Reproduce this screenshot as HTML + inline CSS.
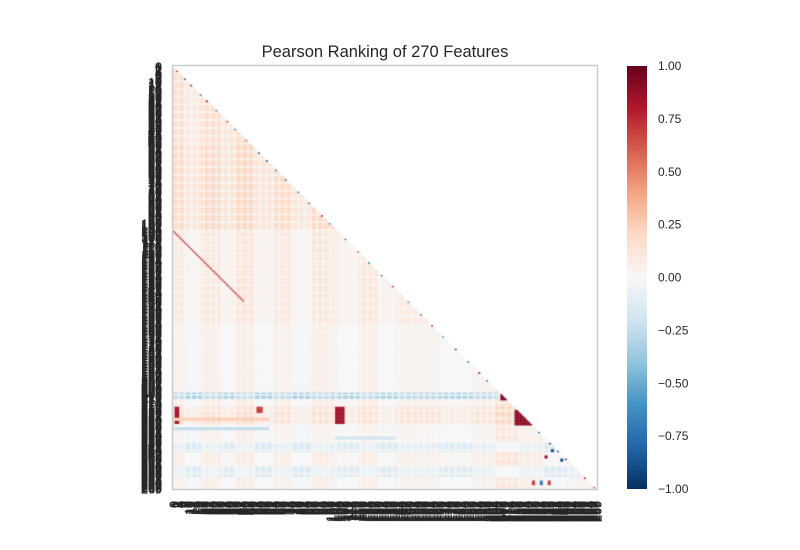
<!DOCTYPE html>
<html><head><meta charset="utf-8"><style>
html,body{margin:0;padding:0;background:#fff;}
#wrap{position:relative;width:800px;height:550px;overflow:hidden;font-family:"Liberation Sans",sans-serif;}
#heat{position:absolute;left:173px;top:66px;}
svg{position:absolute;left:0;top:0;}
</style></head><body>
<div id="wrap">
<canvas id="heat" width="425" height="424"></canvas>
<svg id="svg" width="800" height="550">
<defs><linearGradient id="cb" x1="0" y1="1" x2="0" y2="0">
<stop offset="0" stop-color="#053061"/><stop offset="0.1" stop-color="#2166ac"/><stop offset="0.2" stop-color="#4393c3"/><stop offset="0.3" stop-color="#92c5de"/><stop offset="0.4" stop-color="#d1e5f0"/><stop offset="0.5" stop-color="#f7f7f7"/><stop offset="0.6" stop-color="#fddbc7"/><stop offset="0.7" stop-color="#f4a582"/><stop offset="0.8" stop-color="#d6604d"/><stop offset="0.9" stop-color="#b2182b"/><stop offset="1" stop-color="#67001f"/></linearGradient></defs>
<text x="385" y="57" text-anchor="middle" font-size="16.5" fill="#262626">Pearson Ranking of 270 Features</text>
<rect x="172.5" y="65.5" width="425" height="424" fill="none" stroke="#cccccc" stroke-width="1.5"/>
<rect x="627" y="66" width="20" height="423" fill="url(#cb)"/>
<g id="ylab" font-size="12.5" fill="#262626" stroke="#262626" stroke-width="0.3"></g>
<g id="xlab" font-size="12.5" fill="#262626" stroke="#262626" stroke-width="0.3"></g>
<g id="cbl" font-size="12" fill="#262626"></g>
</svg>
</div>
<script>
const nFeatures = 270;
const rowBandStart = [0, 50, 105, 165, 208, 212, 217, 228, 240, 246, 255, 262];
const rowBandValue = [0.15, 0.17, 0.08, 0.03, -0.3, 0.05, 0.12, 0.02, -0.12, 0.05, -0.1, 0.03];
const colBandStart = [0, 8, 18, 30, 40, 52, 64, 75, 88, 100, 105, 118, 130, 142, 155, 170, 190, 205, 220, 235, 250];
const colBandValue = [0.03, -0.05, 0.04, -0.03, 0.05, -0.04, 0.03, -0.05, 0.04, 0.01, -0.03, 0.04, -0.04, 0.02, 0.01, -0.03, 0.02, 0.1, 0.04, -0.04, 0.01];
const diagOffset = [105];
const diagStart = [105];
const diagEnd = [150];
const diagValue = [0.75];
const nearDiagRow = [3,8,12,18,22,28,35,40,47,55,60,66,72,80,87,95,100,110,118,125,133,140,150,158,165,172,180,188,195,200,233,240,245,250,262,268];
const nearDiagValue = [0.7,-0.8,0.8,-0.7,0.9,-0.6,0.7,-0.7,0.6,-0.8,-0.9,-0.7,-0.8,-0.7,-0.7,0.8,-0.6,-0.7,0.6,-0.7,-0.7,0.8,-0.6,-0.7,0.7,-0.6,0.8,-0.7,0.9,-0.7,-0.8,0.9,-0.9,0.9,0.8,0.6];
const blockRow0 = [209,217,217,217,219,244,248,250,264,264,264,224,230,236];
const blockRow1 = [212,227,227,220,228,245,249,251,266,266,266,225,231,237];
const blockCol0 = [208,1,103,53,217,240,236,246,228,233,238,0,0,103];
const blockCol1 = [212,3,108,56,228,241,237,247,229,234,239,60,60,140];
const blockValue = [0.95,0.85,0.85,0.7,0.9,-0.9,0.9,-0.9,0.7,-0.7,0.7,0.25,-0.25,-0.2];
const cbTicks = [1,0.75,0.5,0.25,0,-0.25,-0.5,-0.75,-1];
const cbLabels = ["1.00","0.75","0.50","0.25","0.00","\u22120.25","\u22120.50","\u22120.75","\u22121.00"];

const X0=173,Y0=66,W=425,H=424,cw=W/nFeatures,ch=H/nFeatures;
const xs=j=>j*cw, ys=i=>i*ch;
const stops=["#053061","#2166ac","#4393c3","#92c5de","#d1e5f0","#f7f7f7","#fddbc7","#f4a582","#d6604d","#b2182b","#67001f"].map(h=>[1,3,5].map(k=>parseInt(h.substr(k,2),16)));
function color(v){v=Math.max(-1,Math.min(1,v));const t=(v+1)*5;const k=Math.min(9,Math.floor(t));const f=t-k;const a=stops[k],b=stops[k+1];return "rgb("+a.map((c,n)=>Math.round(c+(b[n]-c)*f)).join(",")+")";}
function band(starts,vals,i){let v=vals[0];for(let k=0;k<starts.length;k++)if(i>=starts[k])v=vals[k];return v;}
const M=[];
for(let i=0;i<nFeatures;i++){M.push([]);for(let j=0;j<i;j++){let v=band(rowBandStart,rowBandValue,i)+band(colBandStart,colBandValue,j);if(j%4===3||i%5===4)v*=0.2;M[i].push(v);}}
diagOffset.forEach((o,k)=>{for(let i=diagStart[k];i<diagEnd[k];i++){const j=i-o;if(j>=0&&j<i)M[i][j]=diagValue[k];}});
nearDiagRow.forEach((r,k)=>{if(r>0)M[r][r-1]=nearDiagValue[k];});
blockRow0.forEach((r0,k)=>{for(let i=r0;i<=blockRow1[k];i++)for(let j=blockCol0[k];j<=blockCol1[k];j++)if(j<i)M[i][j]=blockValue[k];});
const ctx=document.getElementById('heat').getContext('2d');
for(let i=0;i<nFeatures;i++)for(let j=0;j<i;j++){ctx.fillStyle=color(M[i][j]);ctx.fillRect(xs(j),ys(i),cw+0.3,ch+0.3);}

const NS="http://www.w3.org/2000/svg";
const yl=document.getElementById('ylab'),xl=document.getElementById('xlab'),cb=document.getElementById('cbl');
for(let i=0;i<nFeatures;i++){
 const t=document.createElementNS(NS,'text');
 
 
 t.setAttribute('x',162);t.setAttribute('y',(Y0+ys(i)+ch/2+4.5).toFixed(2));t.setAttribute('text-anchor','end');t.textContent=i;yl.appendChild(t);
 const u=document.createElementNS(NS,'text');
 
 
 const x=X0+xs(i)+cw/2+4.5;u.setAttribute('transform','translate('+x.toFixed(2)+',501) rotate(-90)');u.setAttribute('text-anchor','end');u.textContent=i;xl.appendChild(u);
}
cbTicks.forEach((v,k)=>{
 const y=66+(1-v)/2*423;
 const l=document.createElementNS(NS,'text');
 
 
 l.setAttribute('x',658);l.setAttribute('y',(y+4).toFixed(1));l.textContent=cbLabels[k];cb.appendChild(l);
});
</script>
</body></html>
